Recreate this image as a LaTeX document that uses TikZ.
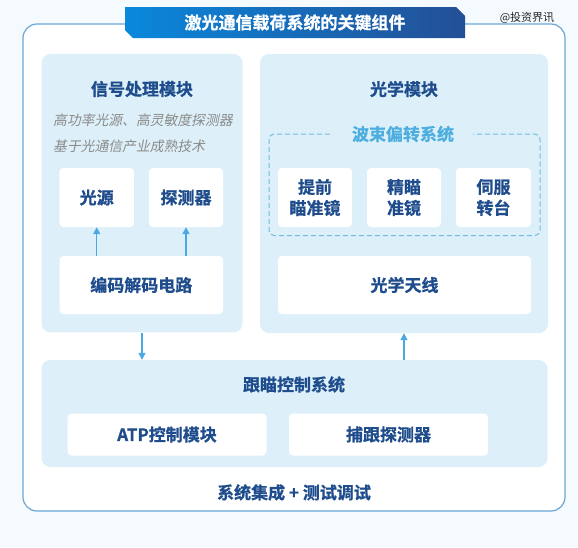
\documentclass[tikz,border=0pt]{standalone}
\usepackage{fontspec}
\setmainfont{Noto Sans CJK SC}[BoldFont={* Bold}, BoldFeatures={FakeBold=0.8}]
\newfontfamily\slantfont{Noto Sans CJK SC}[FakeSlant=0.2]
\usetikzlibrary{arrows.meta}
\definecolor{bgc}{HTML}{F5FAFE}
\definecolor{framec}{HTML}{6BA7D6}
\definecolor{panelc}{HTML}{DDF0F9}
\definecolor{darkc}{HTML}{1E4C8C}
\definecolor{arrc}{HTML}{4BA9E1}
\definecolor{dashc}{HTML}{70BCE2}
\definecolor{labc}{HTML}{4BAEDF}
\definecolor{grayc}{HTML}{8A8A8A}
\definecolor{bannerl}{HTML}{0A88DC}
\definecolor{bannerr}{HTML}{234F96}
\begin{document}
\begin{tikzpicture}[x=1pt,y=-1pt,
  panel/.style={fill=panelc, rounded corners=9pt, draw=none, inner sep=0pt},
  wbox/.style={fill=white, rounded corners=4pt, inner sep=0pt, font=\bfseries\fontsize{17}{21}\selectfont, text=darkc, align=center},
  ttl/.style={font=\bfseries\fontsize{17}{21}\selectfont, text=darkc, inner sep=0pt},
  note/.style={font=\slantfont\fontsize{13.8}{16}\selectfont, text=grayc, inner sep=0pt, anchor=west},
  arr/.style={draw=arrc, line width=1.4pt, -{Triangle[length=7pt,width=7pt]}},
]
\fill[bgc] (0,0) rectangle (578,547);
\useasboundingbox (0,0) rectangle (578,547);

% outer frame
\node[draw=framec, fill=white, line width=1.2pt, rounded corners=14pt,
      minimum width=542pt, minimum height=487pt, inner sep=0pt] (frame) at (294,267.5) {};

% banner
\shade[left color=bannerl, right color=bannerr]
  (125,7) -- (456,7) -- (465,16) -- (465,38) -- (133,38) -- (125,30) -- cycle;
\node[font=\bfseries\fontsize{17}{21}\selectfont, text=white, inner sep=0pt] (title) at (295,22.5) {激光通信载荷系统的关键组件};
\node[font=\fontsize{11}{13}\selectfont, text=black!85, inner sep=0pt] (wm) at (527,18) {@投资界讯};

% left panel
\node[panel, minimum width=201pt, minimum height=278.5pt] (lp) at (142,193.2) {};
\node[ttl] (lpt) at (142,89) {信号处理模块};
\node[note] (n1) at (53,120.5) {高功率光源、高灵敏度探测器};
\node[note] (n2) at (53,146.5) {基于光通信产业成熟技术};
\node[wbox, minimum width=74.5pt, minimum height=59pt] (src) at (96.7,197.5) {光源};
\node[wbox, minimum width=74pt, minimum height=59pt] (det) at (186,197.5) {探测器};
\node[wbox, minimum width=163.5pt, minimum height=58pt] (enc) at (141.3,285) {编码解码电路};
\draw[arr] (enc.north -| src.south) -- (src.south);
\draw[arr] (enc.north -| det.south) -- (det.south);

% right panel
\node[panel, minimum width=288pt, minimum height=279pt] (rp) at (404,193.5) {};
\node[ttl] (rpt) at (404,89) {光学模块};
\draw[dashc, dashed, line width=1pt, dash pattern=on 5pt off 3pt, rounded corners=5pt]
  (269,134) rectangle (540,235.5);
\node[font=\bfseries\fontsize{17}{21}\selectfont, text=labc, fill=panelc, inner xsep=19pt, inner ysep=2pt] (beam) at (403,134) {波束偏转系统};
\node[wbox, minimum width=74pt, minimum height=59pt] (b1) at (315,197.5) {提前\\瞄准镜};
\node[wbox, minimum width=74pt, minimum height=59pt] (b2) at (404,197.5) {精瞄\\准镜};
\node[wbox, minimum width=75pt, minimum height=59pt] (b3) at (493.5,197.5) {伺服\\转台};
\node[wbox, minimum width=253pt, minimum height=58pt] (ant) at (404.5,285) {光学天线};

% bottom panel
\node[panel, minimum width=506pt, minimum height=107pt] (bp) at (294.5,413.5) {};
\node[ttl] (bpt) at (294,384.5) {跟瞄控制系统};
\node[wbox, minimum width=199pt, minimum height=42pt] (atp) at (167,434.5) {ATP控制模块};
\node[wbox, minimum width=199pt, minimum height=42pt] (trk) at (388.5,434.5) {捕跟探测器};
\node[ttl] (foot) at (294,492.5) {系统集成 + 测试调试};

% connectors between panels
\draw[arr] (lp.south) -- (bp.north -| lp.south);
\draw[arr] (bp.north -| rp.south) -- (rp.south);
\end{tikzpicture}
\end{document}
